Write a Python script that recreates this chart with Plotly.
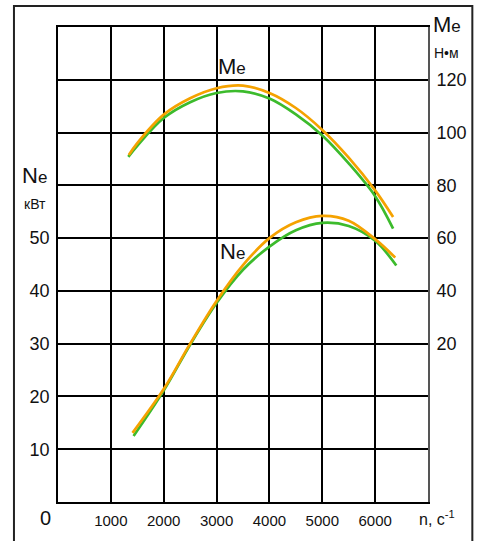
import plotly.graph_objects as go

# ---- data ----
x_tick_vals = [0, 1000, 2000, 3000, 4000, 5000, 6000, 7000]
x_tick_text = ["", "1000", "2000", "3000", "4000", "5000", "6000", ""]
ne_tick_vals = [0, 10, 20, 30, 40, 50, 60, 70, 80, 90]
ne_tick_text = ["", "10", "20", "30", "40", "50", "", "", "", ""]
me_tick_vals = [20, 40, 60, 80, 100, 120]
me_tick_text = ["20", "40", "60", "80", "100", "120"]

n_me_orange = [1340, 1500, 2000, 2500, 3000, 3500, 4000, 4500, 5000, 5500, 6000, 6340]
me_orange = [91.5, 96.0, 106.8, 113.0, 116.8, 117.8, 115.0, 109.3, 101.0, 90.5, 78.1, 68.0]
n_me_green = [1330, 1500, 2000, 2500, 3000, 3500, 4000, 4500, 5000, 5500, 6000, 6340]
me_green = [90.8, 95.0, 105.5, 111.5, 115.0, 115.6, 112.9, 106.9, 98.9, 88.3, 75.9, 63.6]

n_ne_orange = [1410, 2000, 2500, 3000, 3500, 4000, 4500, 5000, 5500, 6000, 6380]
ne_orange = [13.1, 21.4, 30.0, 38.1, 44.9, 50.0, 53.0, 54.2, 53.3, 49.8, 46.3]
n_ne_green = [1430, 2000, 2500, 3000, 3500, 4000, 4500, 5000, 5500, 6000, 6400]
ne_green = [12.5, 21.1, 29.8, 37.7, 44.0, 48.4, 51.5, 52.9, 52.3, 49.5, 44.8]

ORANGE = "#F5A200"
GREEN = "#3CBB2C"
FONT = "Liberation Sans, Arial, sans-serif"

W, H = 479, 541
ML, MR, MT, MB = 58, 51.3, 27, 38.7
PW, PH = W - ML - MR, H - MT - MB


def px_x(p):
    return (p - ML) / PW


def px_y(p):
    return (H - MB - p) / PH


fig = go.Figure()
fig.add_trace(go.Scatter(x=n_me_green, y=me_green, yaxis="y2", mode="lines",
                         line=dict(color=GREEN, width=2.7, shape="spline"), showlegend=False))
fig.add_trace(go.Scatter(x=n_me_orange, y=me_orange, yaxis="y2", mode="lines",
                         line=dict(color=ORANGE, width=2.7, shape="spline"), showlegend=False))
fig.add_trace(go.Scatter(x=n_ne_green, y=ne_green, yaxis="y", mode="lines",
                         line=dict(color=GREEN, width=2.7, shape="spline"), showlegend=False))
fig.add_trace(go.Scatter(x=n_ne_orange, y=ne_orange, yaxis="y", mode="lines",
                         line=dict(color=ORANGE, width=2.7, shape="spline"), showlegend=False))

fig.update_layout(
    width=W, height=H,
    margin=dict(l=ML, r=MR, t=MT, b=MB, pad=0),
    paper_bgcolor="white", plot_bgcolor="white",
    font=dict(family=FONT, color="#111"),
    xaxis=dict(range=[0, 7000], tickvals=x_tick_vals, ticktext=x_tick_text,
               showgrid=True, gridcolor="#000", gridwidth=1.5,
               showline=True, linecolor="#000", linewidth=1.5, mirror=True,
               ticks="", zeroline=False, tickfont=dict(size=15),
               ticklabelstandoff=4),
    yaxis=dict(range=[0, 90], tickvals=ne_tick_vals, ticktext=ne_tick_text,
               showgrid=True, gridcolor="#000", gridwidth=1.5,
               showline=True, linecolor="#000", linewidth=1.5,
               ticks="", zeroline=False, tickfont=dict(size=18),
               ticklabelstandoff=3),
    yaxis2=dict(range=[-40, 140], tickvals=me_tick_vals, ticktext=me_tick_text,
                overlaying="y", side="right", showgrid=False, zeroline=False,
                showline=True, linecolor="#555", linewidth=2,
                ticks="", tickfont=dict(size=18), ticklabelstandoff=3),
)


def lab(text, px, py, size, ref="paper"):
    return dict(text=text, x=px_x(px), y=px_y(py), xref=ref, yref=ref,
                xanchor="center", yanchor="middle", font=dict(size=size), showarrow=False)


ann = [
    dict(text="M<span style='font-size:17px'>e</span>", x=3300, y=82.5, xref="x", yref="y",
         xanchor="center", yanchor="middle", font=dict(size=22), showarrow=False),
    dict(text="N<span style='font-size:17px'>e</span>", x=3300, y=47.4, xref="x", yref="y",
         xanchor="center", yanchor="middle", font=dict(size=22), showarrow=False),
    lab("N<span style='font-size:17px'>e</span>", 35, 176, 22),
    lab("кВт", 35, 204, 14),
    lab("M<span style='font-size:17px'>e</span>", 447, 24, 22),
    lab("Н•м", 446, 53, 14),
    lab("0", 46, 518, 20),
    lab("n, c<sup>-1</sup>", 437, 518, 16),
]
fig.update_layout(annotations=ann)

fig.add_shape(type="rect", xref="paper", yref="paper",
              x0=px_x(14), x1=px_x(472), y0=px_y(548), y1=px_y(6),
              line=dict(color="#222", width=2), fillcolor="rgba(0,0,0,0)", layer="below")

fig.write_html("out.html")
